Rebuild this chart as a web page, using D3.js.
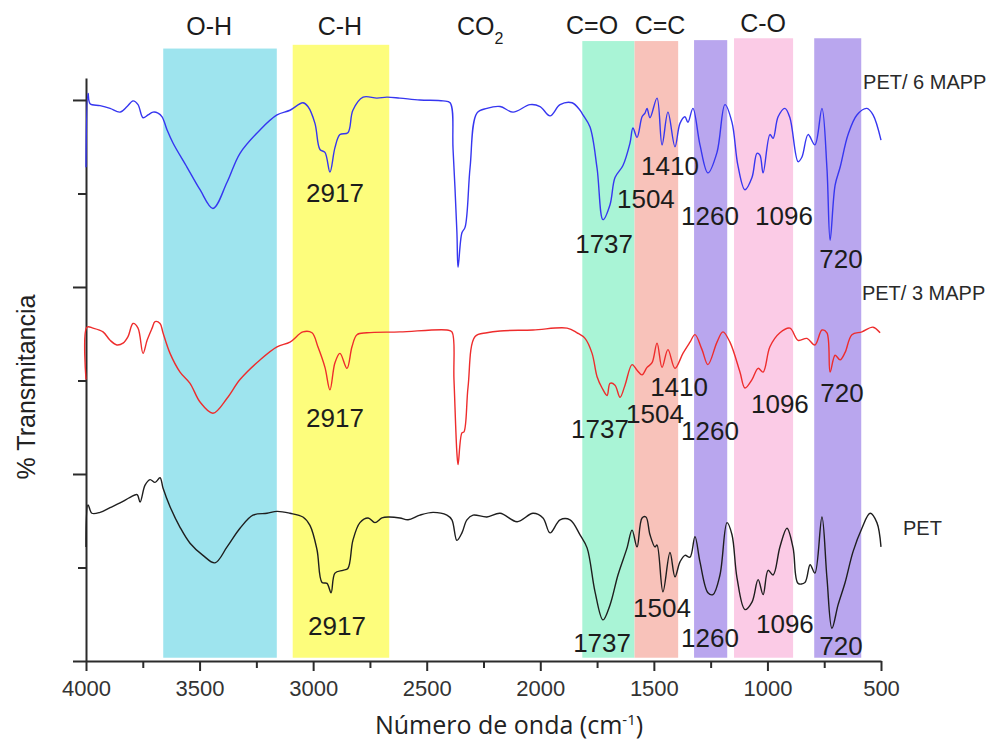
<!DOCTYPE html>
<html>
<head>
<meta charset="utf-8">
<script src="https://cdn.jsdelivr.net/npm/d3@7"></script>
<style>
  body { margin: 0; background: #fff; }
  .vis-container { display: block; }
</style>
</head>
<body>
<svg class="vis-container"></svg>
<script>
// spectra: [wavenumber cm-1, %T in arbitrary offset units]
const petMapp6 = [
  [4000,52.8],[3991,60.7],[3982,59.6],[3938,59.4],[3894,59.1],[3850,58.7],[3819,59.3],[3793,59.9],
  [3771,59.5],[3749,58.1],[3727,58.4],[3705,58.7],[3683,58.6],[3665,58.2],[3643,56.8],[3617,55.4],
  [3555,52.8],[3498,50.4],[3441,48.4],[3379,51.2],[3322,54.3],[3234,56.8],[3159,58.4],[3102,58.9],
  [3045,59.7],[3023,59.3],[2992,57.5],[2970,54.7],[2948,54.4],[2926,52.3],[2904,54.9],[2882,56.3],
  [2847,56.5],[2825,58.9],[2780,60.3],[2719,60.2],[2675,60.3],[2618,60.2],[2530,60.0],[2428,59.9],
  [2397,59.7],[2384,54.7],[2367,45.8],[2362,42.1],[2345,45.8],[2331,46.4],[2309,52.8],[2279,58.6],
  [2235,59.1],[2177,59.3],[2120,58.7],[2045,59.5],[2001,59.3],[1957,58.3],[1913,59.5],[1860,59.7],
  [1825,58.9],[1812,58.4],[1781,57.1],[1750,52.7],[1724,47.2],[1693,48.8],[1671,51.7],[1636,53.0],
  [1605,55.4],[1592,57.0],[1574,56.0],[1552,58.2],[1539,58.6],[1530,59.1],[1517,58.1],[1486,60.2],
  [1464,55.2],[1438,58.7],[1407,55.0],[1385,57.5],[1363,58.2],[1350,57.6],[1328,59.1],[1297,55.2],
  [1262,52.2],[1222,54.4],[1187,59.5],[1156,57.6],[1130,53.0],[1099,50.4],[1068,51.7],[1046,54.3],
  [1033,54.1],[1019,52.2],[989,56.3],[975,55.9],[953,58.2],[923,59.1],[901,58.1],[865,53.4],
  [848,53.9],[821,56.3],[791,55.2],[760,59.1],[738,52.7],[724,45.0],[702,50.9],[680,52.8],
  [645,56.3],[606,58.4],[562,59.1],[535,58.4],[500,55.7]
];

const petMapp3 = [
  [4000,30.1],[3996,35.7],[3969,35.6],[3925,35.2],[3894,34.3],[3864,33.8],[3837,34.0],[3815,34.7],
  [3793,36.1],[3771,35.6],[3749,32.9],[3731,34.3],[3709,35.6],[3696,36.3],[3674,36.1],[3661,35.1],
  [3630,32.9],[3586,30.9],[3542,29.7],[3498,27.7],[3441,26.5],[3379,28.1],[3322,30.1],[3234,32.2],
  [3159,33.6],[3102,34.1],[3045,35.2],[3005,35.1],[2979,33.6],[2948,31.4],[2926,29.0],[2904,31.9],
  [2882,32.9],[2851,31.3],[2829,33.6],[2807,34.9],[2763,35.1],[2618,35.2],[2411,35.4],[2389,35.2],
  [2380,30.1],[2367,22.2],[2362,21.0],[2345,24.4],[2336,24.5],[2318,29.3],[2287,34.7],[2235,35.1],
  [2177,35.3],[2032,35.4],[1882,35.6],[1838,35.1],[1803,34.5],[1772,32.9],[1750,30.4],[1728,29.2],
  [1706,28.4],[1693,29.7],[1671,29.5],[1649,28.2],[1627,29.5],[1596,31.7],[1574,31.1],[1552,30.6],
  [1530,31.4],[1508,31.9],[1486,34.0],[1464,31.4],[1438,33.3],[1407,31.3],[1372,32.9],[1341,34.1],
  [1319,34.9],[1288,33.3],[1262,31.7],[1222,34.1],[1196,35.2],[1165,34.1],[1121,30.9],[1099,29.2],
  [1068,30.1],[1041,31.3],[1019,30.9],[989,33.6],[945,35.1],[901,35.6],[865,34.3],[826,34.5],
  [791,33.8],[760,35.4],[738,35.1],[724,30.9],[702,32.7],[680,32.2],[658,33.0],[628,34.9],
  [584,35.2],[535,35.7],[504,35.1]
];

const pet = [
  [4000,12.2],[3991,16.7],[3974,15.8],[3938,15.9],[3894,16.4],[3850,16.9],[3806,17.5],[3775,17.8],
  [3762,17.0],[3740,18.8],[3718,19.4],[3696,19.1],[3674,19.6],[3661,18.5],[3630,16.5],[3586,14.3],
  [3542,12.6],[3485,11.3],[3432,10.5],[3379,12.2],[3322,14.2],[3265,15.6],[3203,15.8],[3159,16.0],
  [3102,15.8],[3045,15.4],[3014,14.5],[2983,11.9],[2961,8.4],[2939,8.3],[2921,7.3],[2904,9.4],
  [2869,9.7],[2847,9.9],[2825,12.9],[2794,14.8],[2758,15.3],[2728,14.8],[2697,15.3],[2670,15.4],
  [2618,15.3],[2582,15.1],[2530,15.6],[2472,15.9],[2411,15.6],[2389,15.1],[2367,12.9],[2345,13.7],
  [2323,15.1],[2296,15.6],[2235,15.4],[2177,15.8],[2102,14.9],[2032,15.8],[1988,15.3],[1957,13.7],
  [1913,15.1],[1869,15.1],[1825,13.5],[1794,12.1],[1759,7.4],[1724,4.4],[1693,6.0],[1658,9.2],
  [1618,12.1],[1596,14.0],[1574,12.2],[1552,15.3],[1535,15.4],[1517,13.5],[1495,12.2],[1486,12.4],
  [1460,7.4],[1429,11.6],[1407,9.0],[1385,10.6],[1363,11.3],[1341,11.1],[1319,13.3],[1297,10.6],
  [1262,7.3],[1240,7.1],[1209,9.2],[1178,14.8],[1156,13.5],[1134,8.9],[1099,5.5],[1068,6.3],
  [1041,8.7],[1019,7.1],[997,9.7],[975,9.2],[945,12.2],[914,14.2],[887,12.1],[865,8.3],
  [835,8.4],[812,10.3],[791,9.4],[760,15.4],[738,8.9],[716,3.5],[689,6.0],[658,8.4],
  [623,11.7],[584,14.2],[548,15.8],[518,14.8],[500,12.2]
];

// shaded band ranges (cm-1)
const bandFrom = [3660, 3090, 1815, 1585, 1323, 1147, 794];
const bandTo   = [3160, 2665, 1585, 1393, 1177, 887, 587];
const bandTop  = [65.5, 65.9, 66.3, 66.3, 66.4, 66.6, 66.6];
const bandColors = ["#9ee4ee", "#fdfd7c", "#a9f4d6", "#f8c2ba", "#b9a6ee", "#fbcbe6", "#b9a6ee"];

// group labels over the bands
const groupText = ["O-H", "C-H", "CO", "C=O", "C=C", "C-O"];
const groupWn   = [3458, 2882, 2265, 1772, 1473, 1019];
const groupY    = [67.0, 67.0, 67.0, 67.1, 67.1, 67.3];

// peak labels per spectrum
const peaks6Text = ["2917", "1737", "1504", "1410", "1260", "1096", "720"];
const peaks6Wn   = [2904, 1719, 1535, 1429, 1253, 927, 676];
const peaks6Y    = [49.1, 43.6, 48.4, 52.0, 46.6, 46.6, 42.0];
const peaks3Text = ["2917", "1737", "1504", "1410", "1260", "1096", "720"];
const peaks3Wn   = [2904, 1737, 1495, 1389, 1253, 945, 672];
const peaks3Y    = [25.0, 23.9, 25.5, 28.3, 23.6, 26.5, 27.7];
const peaksPText = ["2917", "1737", "1504", "1260", "1096", "720"];
const peaksPWn   = [2895, 1728, 1464, 1253, 923, 676];
const peaksPY    = [2.8, 1.0, 4.7, 1.5, 3.0, 0.6];

const seriesNames = ["PET/ 6 MAPP", "PET/ 3 MAPP", "PET"];
const seriesNameWn = [579, 584, 403];
const seriesNameY  = [61.2, 38.6, 13.5];

const xMajor = [4000, 3500, 3000, 2500, 2000, 1500, 1000, 500];
const xMinor = [3750, 3250, 2750, 2250, 1750, 1250, 750];
const yMajor = [0, 20, 40, 60];
const yMinor = [10, 30, 50];

const width = 993;
const height = 744;

const svg = d3.select('.vis-container')
  .attr('width', width)
  .attr('height', height);

const x = d3.scaleLinear().domain([4000, 500]).range([86, 881]);
const y = d3.scaleLinear().domain([0, 62.35]).range([661, 78]);

const bands = bandFrom.map((d, i) => ({from: d, to: bandTo[i], top: bandTop[i], color: bandColors[i]}));

svg.append('g').selectAll('rect')
  .data(bands)
  .enter()
  .append('rect')
    .attr('x', d => x(d.from))
    .attr('width', d => x(d.to) - x(d.from))
    .attr('y', d => y(d.top))
    .attr('height', d => y(0.35) - y(d.top))
    .attr('fill', d => d.color);

// axes
const labelFont = '"Liberation Sans", Arial, sans-serif';

function styleAxis(g) {
  g.selectAll('path, line').attr('stroke', '#2b2b2b').attr('stroke-width', 2);
}

svg.append('g')
  .attr('transform', 'translate(0,661)')
  .call(d3.axisBottom(x).tickValues(xMinor).tickSize(7).tickSizeOuter(0).tickFormat(''))
  .call(g => g.select('.domain').remove())
  .call(styleAxis);

svg.append('g')
  .attr('transform', 'translate(0,661)')
  .call(d3.axisBottom(x).tickValues(xMajor).tickSize(10).tickSizeOuter(0).tickPadding(9).tickFormat(d3.format('d')))
  .call(styleAxis)
  .call(g => g.selectAll('text')
    .attr('fill', '#333')
    .style('font-family', labelFont)
    .style('font-size', '22px'));

svg.append('g')
  .attr('transform', 'translate(86,0)')
  .call(d3.axisLeft(y).tickValues(yMinor).tickSize(8).tickFormat(''))
  .call(g => g.select('.domain').remove())
  .call(styleAxis);

svg.append('g')
  .attr('transform', 'translate(86,0)')
  .call(d3.axisLeft(y).tickValues(yMajor).tickSize(13).tickSizeOuter(0).tickFormat(''))
  .call(styleAxis);

// spectra
const line = d3.line()
  .x(d => x(d[0]))
  .y(d => y(d[1]))
  .curve(d3.curveCatmullRom.alpha(0.5));

const spectra = [
  {data: petMapp6, color: '#3636f0'},
  {data: petMapp3, color: '#ee2c2c'},
  {data: pet, color: '#1e1e1e'}
];

svg.append('g').selectAll('path')
  .data(spectra)
  .enter()
  .append('path')
    .attr('d', d => line(d.data))
    .attr('fill', 'none')
    .attr('stroke', d => d.color)
    .attr('stroke-width', 1.4)
    .attr('stroke-linejoin', 'round');

// peak numbers
const peakLabels = [];
[[peaks6Text, peaks6Wn, peaks6Y], [peaks3Text, peaks3Wn, peaks3Y], [peaksPText, peaksPWn, peaksPY]]
  .forEach(set => set[0].forEach((t, i) => peakLabels.push({text: t, wn: set[1][i], v: set[2][i]})));

svg.append('g').selectAll('text')
  .data(peakLabels)
  .enter()
  .append('text')
    .attr('x', d => x(d.wn))
    .attr('y', d => y(d.v))
    .attr('text-anchor', 'middle')
    .attr('fill', '#1c1c1c')
    .style('font-family', labelFont)
    .style('font-size', '26px')
    .text(d => d.text);

// group names on top
const groups = svg.append('g').selectAll('text')
  .data(groupText.map((t, i) => ({text: t, wn: groupWn[i], v: groupY[i]})))
  .enter()
  .append('text')
    .attr('x', d => x(d.wn))
    .attr('y', d => y(d.v))
    .attr('text-anchor', 'middle')
    .attr('fill', '#1c1c1c')
    .style('font-family', labelFont)
    .style('font-size', '25px')
    .text(d => d.text);

groups.filter(d => d.text === 'CO')
  .append('tspan')
    .attr('dy', 9)
    .style('font-size', '16px')
    .text('2');

// series names at right
svg.append('g').selectAll('text')
  .data(seriesNames.map((t, i) => ({text: t, wn: seriesNameWn[i], v: seriesNameY[i]})))
  .enter()
  .append('text')
    .attr('x', d => x(d.wn))
    .attr('y', d => y(d.v))
    .attr('fill', '#2a2a2a')
    .style('font-family', labelFont)
    .style('font-size', '20px')
    .text(d => d.text);

// axis titles
svg.append('text')
  .attr('x', 509)
  .attr('y', 734)
  .attr('text-anchor', 'middle')
  .attr('fill', '#222')
  .style('font-family', '"Open Sans", sans-serif')
  .style('font-size', '25px')
  .text('Número de onda (cm')
  .append('tspan')
    .attr('dy', -9)
    .style('font-size', '15px')
    .text('-1')
  .select(function() { return this.parentNode; })
  .append('tspan')
    .attr('dy', 9)
    .text(')');

svg.append('text')
  .attr('transform', 'translate(35,387) rotate(-90)')
  .attr('text-anchor', 'middle')
  .attr('fill', '#222')
  .style('font-family', labelFont)
  .style('font-size', '25px')
  .text('% Transmitancia');
</script>
</body>
</html>
